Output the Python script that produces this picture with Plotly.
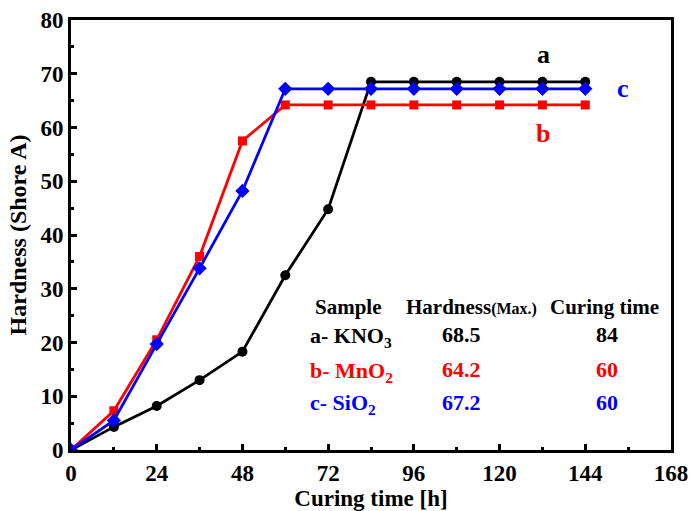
import plotly.graph_objects as go

time_h = [0, 12, 24, 36, 48, 60, 72, 84, 96, 108, 120, 132, 144]
kno3 = [0, 4.3, 8.2, 13.0, 18.3, 32.5, 44.8, 68.5, 68.5, 68.5, 68.5, 68.5, 68.5]
mno2 = [0, 7.3, 20.5, 36.0, 57.5, 64.2, 64.2, 64.2, 64.2, 64.2, 64.2, 64.2, 64.2]
sio2 = [0, 5.5, 19.7, 33.8, 48.2, 67.2, 67.2, 67.2, 67.2, 67.2, 67.2, 67.2, 67.2]
x_ticks = [0, 24, 48, 72, 96, 120, 144, 168]
y_ticks = [0, 10, 20, 30, 40, 50, 60, 70, 80]

FONT = "Liberation Serif"
BLACK, RED, BLUE = "#000000", "#ff0000", "#0000ff"

fig = go.Figure()
fig.add_trace(go.Scatter(x=time_h, y=kno3, mode="lines+markers",
                         line=dict(color=BLACK, width=2.8),
                         marker=dict(symbol="circle", size=10, color=BLACK)))
fig.add_trace(go.Scatter(x=time_h, y=mno2, mode="lines+markers",
                         line=dict(color=RED, width=2.8),
                         marker=dict(symbol="square", size=9, color=RED)))
fig.add_trace(go.Scatter(x=time_h, y=sio2, mode="lines+markers",
                         line=dict(color=BLUE, width=2.8),
                         marker=dict(symbol="diamond", size=11, color=BLUE)))

def ann(text, x, y, color, size=21, xanchor="center"):
    fig.add_annotation(text=text, x=x, y=y, xref="x", yref="y", showarrow=False,
                       xanchor=xanchor, yanchor="middle",
                       font=dict(family=FONT, size=size, color=color))

ann("<b>a</b>", 132.2, 73.5, BLACK, 26)
ann("<b>b</b>", 132.2, 58.8, RED, 26)
ann("<b>c</b>", 154.6, 67.3, BLUE, 26)

# table (in data coordinates)
ann("<b>Sample</b>", 77.6, 26.6, BLACK, 21)
ann("<b>Hardness<span style='font-size:16px'>(Max.)</span></b>", 112, 26.6, BLACK, 21)
ann("<b>Curing time</b>", 149.5, 26.6, BLACK, 21)
rows = [("a- KNO<sub>3</sub>", "68.5", "84", BLACK, 21.4),
        ("b- MnO<sub>2</sub>", "64.2", "60", RED, 14.9),
        ("c- SiO<sub>2</sub>", "67.2", "60", BLUE, 8.9)]
for label, hard, cure, col, yv in rows:
    ann("<b>" + label + "</b>", 66.4, yv - 0.4, col, 22, xanchor="left")
    ann("<b>" + hard + "</b>", 109.2, yv, col, 22)
    ann("<b>" + cure + "</b>", 150, yv, col, 22)

axis_common = dict(showline=True, linecolor=BLACK, linewidth=3, mirror=True,
                   ticks="inside", ticklen=6, tickwidth=2.5, tickcolor=BLACK,
                   showgrid=False, zeroline=False, automargin=False,
                   tickfont=dict(family=FONT, size=23, color=BLACK))

fig.update_layout(
    width=691, height=511,
    margin=dict(l=71, r=20, t=20, b=61),
    paper_bgcolor="white", plot_bgcolor="white",
    showlegend=False,
    xaxis=dict(range=[0, 168], tickvals=x_ticks, ticktext=["<b>%d</b>" % v for v in x_ticks],
               minor=dict(dtick=12, tick0=0, ticks="inside", ticklen=3, tickwidth=2.5, tickcolor=BLACK),
               title=dict(text="<b>Curing time [h]</b>", font=dict(family=FONT, size=23, color=BLACK), standoff=8),
               **axis_common),
    yaxis=dict(range=[0, 80], tickvals=y_ticks, ticktext=["<b>%d</b>" % v for v in y_ticks],
               minor=dict(dtick=5, tick0=0, ticks="inside", ticklen=3, tickwidth=2.5, tickcolor=BLACK),
               title=dict(text="<b>Hardness (Shore A)</b>", font=dict(family=FONT, size=24, color=BLACK), standoff=8),
               **axis_common),
)

fig.write_html("out.html")
